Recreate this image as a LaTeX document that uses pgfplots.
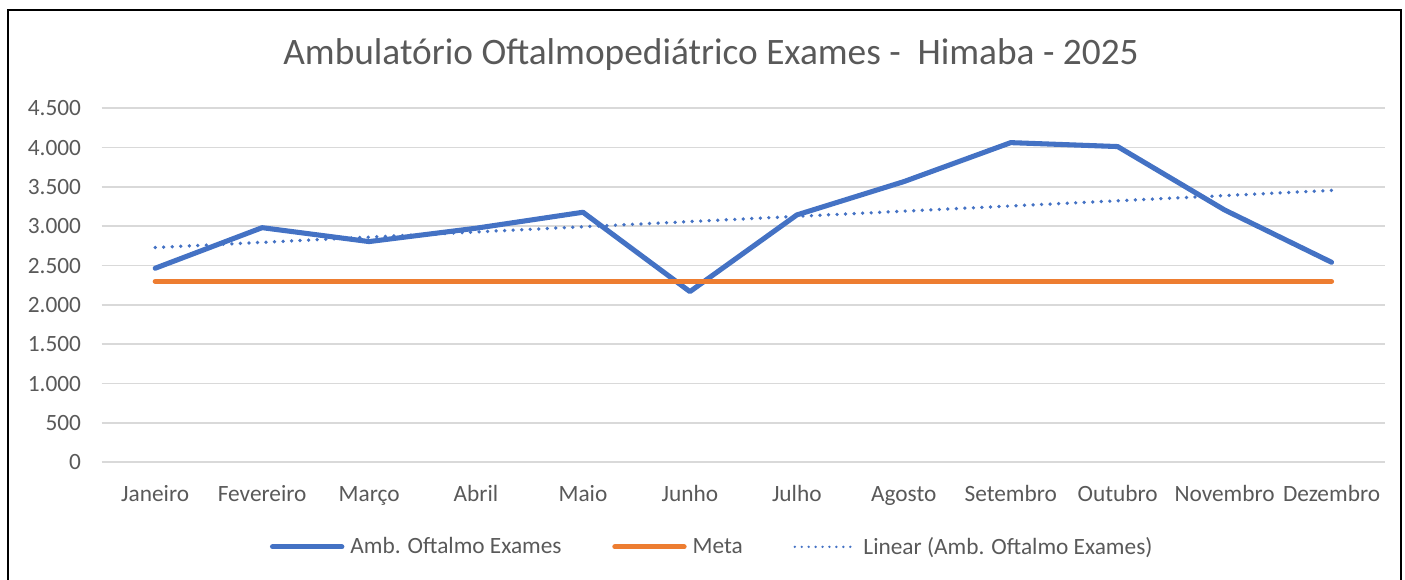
\documentclass[border=0pt]{standalone}
\usepackage{pgfplots}
\usepackage{pgfplotstable}
\pgfplotsset{compat=1.18}
\usepackage{fontspec}
\setmainfont{Carlito}
\definecolor{exblue}{HTML}{4472C4}
\definecolor{exorange}{HTML}{ED7D31}
\definecolor{exgrid}{HTML}{D9D9D9}
\definecolor{extext}{HTML}{595959}

\pgfplotstableread{
x y meta
1 2466 2300
2 2982 2300
3 2805 2300
4 2975 2300
5 3178 2300
6 2169 2300
7 3144 2300
8 3567 2300
9 4063 2300
10 4013 2300
11 3207 2300
12 2542 2300
}\datatable

\begin{document}
\begin{tikzpicture}
\useasboundingbox (-76.3pt,-88.3pt) rectangle (977.5pt,346.7pt);
\draw[line width=1.6pt] (-70.3pt,-100pt) rectangle (974.5pt,339.2pt);
\node[font=\fontsize{28pt}{33pt}\selectfont, text=extext] at (457pt,305.5pt) {Ambulatório Oftalmopediátrico Exames -\ \ Himaba - 2025};
\begin{axis}[
  at={(0pt,0pt)}, anchor=south west,
  scale only axis,
  width=962.5pt, height=265.5pt,
  xmin=0.5, xmax=12.5, ymin=0, ymax=4500,
  axis line style={draw=none},
  major tick length=0pt,
  xtick={1,...,12},
  xticklabels={Janeiro,Fevereiro,Março,Abril,Maio,Junho,Julho,Agosto,Setembro,Outubro,Novembro,Dezembro},
  ytick={0,500,...,4500},
  ymajorgrids,
  grid style={exgrid, line width=1.3pt},
  every tick label/.append style={font=\fontsize{17.5pt}{21pt}\selectfont, text=extext},
  xticklabel style={anchor=base, yshift=-29.5pt},
  yticklabel style={anchor=east, xshift=-12pt},
  /pgf/number format/.cd, 1000 sep={.}, assume math mode=true,
  /pgfplots/.cd,
  legend columns=3,
  legend style={draw=none, fill=none, at={(0.476,-0.239)}, anchor=center,
    font=\fontsize{17.5pt}{21pt}\selectfont, text=extext,
    /tikz/every odd column/.append style={column sep=2.5pt},
    /tikz/every even column/.append style={column sep=36pt},
    inner sep=0pt},
  legend image code/.code={\draw[#1] (0pt,0pt) -- (52pt,0pt);},
  clip=false,
]
\addplot[exblue, line width=3.8pt, line join=round, line cap=round] table[x=x,y=y] \datatable;
\addlegendentry{Amb. Oftalmo Exames}
\addplot[exorange, line width=3.8pt, line cap=round] table[x=x,y=meta] \datatable;
\addlegendentry{Meta}
\addplot[exblue, line width=2.8pt, line cap=round, dash pattern=on 0pt off 6.4pt,
  legend image code/.code={\draw[exblue, line width=2pt, line cap=round, dash pattern=on 0pt off 5.2pt] (2pt,0pt) -- (48pt,0pt);}]
  table[x=x,y={create col/linear regression={y=y}}] \datatable;
\addlegendentry{Linear (Amb. Oftalmo Exames)}
\end{axis}
\end{tikzpicture}
\end{document}
